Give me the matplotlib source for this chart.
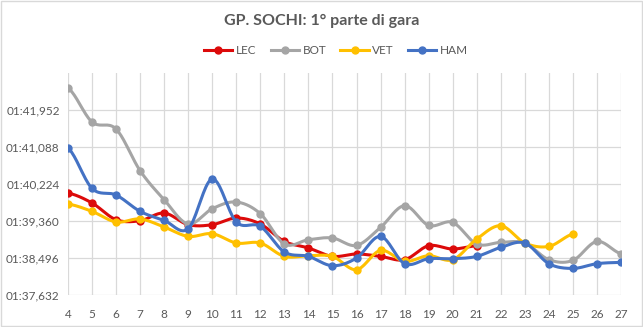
import numpy as np
import matplotlib
matplotlib.use("Agg")
import matplotlib.pyplot as plt
from matplotlib.ticker import FuncFormatter

# lap times in seconds
laps = list(range(4, 28))
lec = [100.010, 99.777, 99.387, 99.364, 99.543, 99.271, 99.271, 99.427, 99.287,
       98.881, 98.728, 98.532, 98.588, 98.532, 98.455, 98.781, 98.704, 98.781]
bot = [102.457, 101.665, 101.501, 100.529, 99.853, 99.287, 99.644, 99.800, 99.527,
       98.821, 98.921, 98.961, 98.788, 99.208, 99.714, 99.254, 99.324, 98.821,
       98.858, 98.844, 98.455, 98.439, 98.881, 98.595]
vet = [99.753, 99.581, 99.334, 99.404, 99.217, 98.998, 99.061, 98.844, 98.844,
       98.532, 98.548, 98.532, 98.222, 98.672, 98.415, 98.548, 98.455, 98.937,
       99.247, 98.844, 98.765, 99.054]
ham = [101.059, 100.117, 99.963, 99.581, 99.371, 99.177, 100.336, 99.334, 99.231,
       98.634, 98.532, 98.315, 98.494, 98.998, 98.362, 98.478, 98.478, 98.532,
       98.742, 98.844, 98.362, 98.252, 98.362, 98.392]

names = ["LEC", "BOT", "VET", "HAM"]
series = [lec, bot, vet, ham]
colors = ["#DC0A0A", "#A5A5A5", "#FFC000", "#4472C4"]

y_ticks = [97.632 + 0.864 * k for k in range(6)]


def smooth(x, y, n=20):
    # excel-like smoothed line (catmull-rom through the points)
    x = np.asarray(x, float)
    y = np.asarray(y, float)
    px = np.concatenate([[2 * x[0] - x[1]], x, [2 * x[-1] - x[-2]]])
    py = np.concatenate([[y[0]], y, [y[-1]]])
    xs, ys = [], []
    for i in range(1, len(px) - 2):
        t = np.linspace(0, 1, n)
        p0, p1, p2, p3 = py[i - 1], py[i], py[i + 1], py[i + 2]
        q0, q1, q2, q3 = px[i - 1], px[i], px[i + 1], px[i + 2]
        c1y = p1 + (p2 - p0) / 6
        c2y = p2 - (p3 - p1) / 6
        c1x = q1 + (q2 - q0) / 6
        c2x = q2 - (q3 - q1) / 6
        b = lambda a, b1, c, d: ((1 - t) ** 3 * a + 3 * (1 - t) ** 2 * t * b1
                                 + 3 * (1 - t) * t ** 2 * c + t ** 3 * d)
        xs.append(b(q1, c1x, c2x, q2))
        ys.append(b(p1, c1y, c2y, p2))
    return np.concatenate(xs), np.concatenate(ys)


def fmt_time(v, pos=None):
    m = int(v // 60)
    s = v - 60 * m
    return "%02d:%s" % (m, ("%06.3f" % s).replace(".", ","))


plt.rcParams['font.family'] = ['Lato', 'DejaVu Sans']
gray_txt = "#595959"

fig = plt.figure(figsize=(6.43, 3.27), dpi=100)
ax = fig.add_axes([68 / 643, 1 - 295 / 327, (621 - 68) / 643, (295 - 73) / 327])

for name, vals, col in zip(names, series, colors):
    xl = laps[:len(vals)]
    sx, sy = smooth(xl, vals)
    ax.plot(sx, sy, color=col, lw=2.2, solid_capstyle="round", zorder=3)
    ax.plot(xl, vals, "o", color=col, ms=5, zorder=3)
    ax.plot([], [], "-o", color=col, lw=2.2, ms=5, label=name)

ax.set_xlim(4, 27)
ax.set_ylim(97.632, 97.632 + 0.864 * 5 + 0.864 * 0.99)
ax.set_xticks(laps)
ax.set_yticks(y_ticks)
ax.yaxis.set_major_formatter(FuncFormatter(fmt_time))
ax.grid(True, color="#D9D9D9", lw=0.9)
ax.set_axisbelow(True)
for sp in ax.spines.values():
    sp.set_visible(False)
ax.tick_params(length=0, labelsize=8.5, colors=gray_txt)
ax.tick_params(axis="x", pad=10)
ax.tick_params(axis="y", pad=6)

fig.text(0.5, 1 - 21 / 327, "GP. SOCHI: 1° parte di gara", ha="center", va="center",
         fontsize=11.5, fontweight="bold", color=gray_txt)
fig.legend(loc="center", bbox_to_anchor=(336 / 643, 1 - 51 / 327), ncol=4, frameon=False,
           fontsize=8.5, labelcolor=gray_txt, handlelength=2.4, columnspacing=1.2,
           handletextpad=0.3)

fig.patches.append(plt.Rectangle((0.002, 0.003), 0.996, 0.994, transform=fig.transFigure,
                                 fill=False, edgecolor="#D9D9D9", lw=1))

fig.savefig("out.png", dpi=100)
